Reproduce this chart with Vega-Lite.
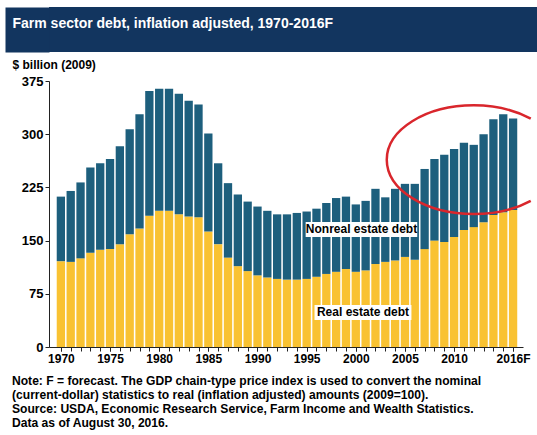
{
  "$schema": "https://vega.github.io/schema/vega-lite/v6.json",
  "background": "white",
  "padding": {"left": 12, "top": 7, "right": 0, "bottom": 0},
  "spacing": 6,
  "config": {
    "font": "Liberation Sans",
    "view": {"stroke": null},
    "axis": {
      "labelFont": "Liberation Sans",
      "labelFontWeight": "bold",
      "labelFontSize": 12,
      "labelColor": "#000000",
      "domainColor": "#222222",
      "tickColor": "#222222",
      "grid": false
    },
    "axisX": {"labelFlush": false},
    "axisY": {"labelFontSize": 13}
  },
  "vconcat": [
    {
      "width": 488,
      "height": 45,
      "view": {"fill": "#12355f", "stroke": null},
      "data": {"values": [{"v": 0}, {"v": 1}]},
      "mark": {"type": "point", "opacity": 0, "size": 0},
      "encoding": {
        "x": {
          "field": "v",
          "type": "quantitative",
          "axis": {
            "orient": "top",
            "zindex": 2,
            "domain": false,
            "ticks": false,
            "labels": false,
            "title": "Farm sector debt, inflation adjusted, 1970-2016F",
            "titleX": -37,
            "titleY": 16,
            "titleAlign": "left",
            "titleBaseline": "middle",
            "titleColor": "#ffffff",
            "titleFont": "Liberation Sans",
            "titleFontSize": 14,
            "titleFontWeight": "bold"
          }
        },
        "y": {
          "field": "v",
          "type": "quantitative",
          "axis": {
            "zindex": 0,
            "domain": true,
            "domainColor": "#12355f",
            "domainWidth": 44,
            "offset": 22,
            "ticks": false,
            "labels": false,
            "title": null
          }
        }
      }
    },
    {
      "width": 474,
      "height": 266,
      "title": {
        "text": [
          "Note: F = forecast. The GDP chain-type price index is used to convert the nominal",
          "(current-dollar) statistics to real (inflation adjusted) amounts (2009=100).",
          "Source: USDA, Economic Research Service, Farm Income and Wealth Statistics.",
          "Data as of August 30, 2016."
        ],
        "orient": "bottom",
        "anchor": "start",
        "frame": "group",
        "dx": -37,
        "offset": 11,
        "font": "Liberation Sans",
        "fontSize": 12.1,
        "fontWeight": "bold",
        "lineHeight": 14,
        "color": "#000000"
      },
      "resolve": {"axis": {"x": "independent"}},
      "layer": [
        {
          "data": {
            "values": [
              {"year": 1970, "real": 121, "nonreal": 91},
              {"year": 1971, "real": 120, "nonreal": 100},
              {"year": 1972, "real": 125, "nonreal": 107},
              {"year": 1973, "real": 133, "nonreal": 120},
              {"year": 1974, "real": 137, "nonreal": 122},
              {"year": 1975, "real": 138, "nonreal": 127},
              {"year": 1976, "real": 145, "nonreal": 138},
              {"year": 1977, "real": 159, "nonreal": 148},
              {"year": 1978, "real": 167, "nonreal": 161},
              {"year": 1979, "real": 185, "nonreal": 176},
              {"year": 1980, "real": 192, "nonreal": 172},
              {"year": 1981, "real": 192, "nonreal": 172},
              {"year": 1982, "real": 187, "nonreal": 170},
              {"year": 1983, "real": 184, "nonreal": 163},
              {"year": 1984, "real": 183, "nonreal": 159},
              {"year": 1985, "real": 163, "nonreal": 138},
              {"year": 1986, "real": 145, "nonreal": 114},
              {"year": 1987, "real": 126, "nonreal": 105},
              {"year": 1988, "real": 114, "nonreal": 101},
              {"year": 1989, "real": 107, "nonreal": 98},
              {"year": 1990, "real": 101, "nonreal": 97},
              {"year": 1991, "real": 98, "nonreal": 94},
              {"year": 1992, "real": 96, "nonreal": 91},
              {"year": 1993, "real": 95, "nonreal": 92},
              {"year": 1994, "real": 95, "nonreal": 94},
              {"year": 1995, "real": 96, "nonreal": 95},
              {"year": 1996, "real": 99, "nonreal": 96},
              {"year": 1997, "real": 103, "nonreal": 100},
              {"year": 1998, "real": 106, "nonreal": 104},
              {"year": 1999, "real": 110, "nonreal": 102},
              {"year": 2000, "real": 106, "nonreal": 95},
              {"year": 2001, "real": 108, "nonreal": 98},
              {"year": 2002, "real": 117, "nonreal": 106},
              {"year": 2003, "real": 120, "nonreal": 91},
              {"year": 2004, "real": 122, "nonreal": 101},
              {"year": 2005, "real": 127, "nonreal": 103},
              {"year": 2006, "real": 123, "nonreal": 107},
              {"year": 2007, "real": 138, "nonreal": 113},
              {"year": 2008, "real": 150, "nonreal": 115},
              {"year": 2009, "real": 148, "nonreal": 123},
              {"year": 2010, "real": 155, "nonreal": 124},
              {"year": 2011, "real": 165, "nonreal": 123},
              {"year": 2012, "real": 169, "nonreal": 116},
              {"year": 2013, "real": 176, "nonreal": 124},
              {"year": 2014, "real": 186, "nonreal": 135},
              {"year": 2015, "real": 190, "nonreal": 138},
              {"year": 2016, "real": 193, "nonreal": 129}
            ]
          },
          "transform": [{"fold": ["real", "nonreal"], "as": ["type", "value"]}],
          "mark": {"type": "bar", "width": 8.3},
          "encoding": {
            "x": {
              "field": "year",
              "type": "quantitative",
              "scale": {"domain": [1969.3, 2016.5], "nice": false, "zero": false},
              "axis": {
                "orient": "bottom",
                "title": null,
                "values": [1970, 1975, 1980, 1985, 1990, 1995, 2000, 2005, 2010, 2016],
                "format": "d",
                "labelExpr": "datum.value == 2016 ? '2016F' : datum.label",
                "labelOverlap": false,
                "labelFlush": false,
                "tickSize": 4,
                "labelPadding": 2
              }
            },
            "y": {
              "field": "value",
              "type": "quantitative",
              "stack": "zero",
              "scale": {"domain": [0, 375], "nice": false},
              "axis": {
                "values": [0, 75, 150, 225, 300, 375],
                "tickSize": 4,
                "labelPadding": 2,
                "title": "$ billion (2009)",
                "titleAngle": 0,
                "titleAlign": "left",
                "titleBaseline": "middle",
                "titleX": -37,
                "titleY": -17,
                "titleFont": "Liberation Sans",
                "titleFontSize": 12,
                "titleFontWeight": "bold",
                "titleColor": "#000000"
              }
            },
            "color": {
              "field": "type",
              "type": "nominal",
              "scale": {"domain": ["real", "nonreal"], "range": ["#f9c232", "#1d5f7d"]},
              "legend": null
            },
            "order": {"field": "type", "sort": "descending"}
          }
        },
        {
          "data": {"values": [{}]},
          "mark": {"type": "rect", "fill": "#ffffff"},
          "encoding": {
            "x": {
              "datum": 1994.9,
              "axis": {
                "orient": "bottom",
                "title": null,
                "values": [1970, 1971, 1972, 1973, 1974, 1975, 1976, 1977, 1978, 1979, 1980, 1981, 1982, 1983, 1984, 1985, 1986, 1987, 1988, 1989, 1990, 1991, 1992, 1993, 1994, 1995, 1996, 1997, 1998, 1999, 2000, 2001, 2002, 2003, 2004, 2005, 2006, 2007, 2008, 2009, 2010, 2011, 2012, 2013, 2014, 2015, 2016],
                "labels": false,
                "domain": false,
                "tickSize": 4
              }
            },
            "x2": {"datum": 2006.25},
            "y": {"datum": 176.3},
            "y2": {"datum": 155.1}
          }
        },
        {
          "data": {"values": [{}]},
          "mark": {"type": "rect", "fill": "#ffffff"},
          "encoding": {
            "x": {"datum": 1995.8, "axis": null},
            "x2": {"datum": 2005.66},
            "y": {"datum": 59.2},
            "y2": {"datum": 38.1}
          }
        },
        {
          "data": {"values": [{}]},
          "mark": {"type": "text", "text": "Nonreal estate debt", "font": "Liberation Sans", "fontSize": 12, "fontWeight": "bold", "color": "#000000", "align": "center", "baseline": "middle"},
          "encoding": {
            "x": {"datum": 2000.58, "axis": null},
            "y": {"datum": 165.7}
          }
        },
        {
          "data": {"values": [{}]},
          "mark": {"type": "text", "text": "Real estate debt", "font": "Liberation Sans", "fontSize": 12, "fontWeight": "bold", "color": "#000000", "align": "center", "baseline": "middle"},
          "encoding": {
            "x": {"datum": 2000.73, "axis": null},
            "y": {"datum": 48.7}
          }
        },
        {
          "data": {"values": [{}]},
          "mark": {
            "type": "point",
            "shape": "M 0.655 -0.472 C 0.473 -0.571 0.241 -0.625 0 -0.625 C -0.552 -0.625 -1 -0.345 -1 0 C -1 0.345 -0.552 0.625 0 0.625 C 0.241 0.625 0.473 0.571 0.655 0.472",
            "size": 30276,
            "filled": false,
            "stroke": "#d9262c",
            "strokeWidth": 2.5,
            "opacity": 1
          },
          "encoding": {
            "x": {"datum": 2012, "axis": null},
            "y": {"datum": 264}
          }
        }
      ]
    }
  ]
}
